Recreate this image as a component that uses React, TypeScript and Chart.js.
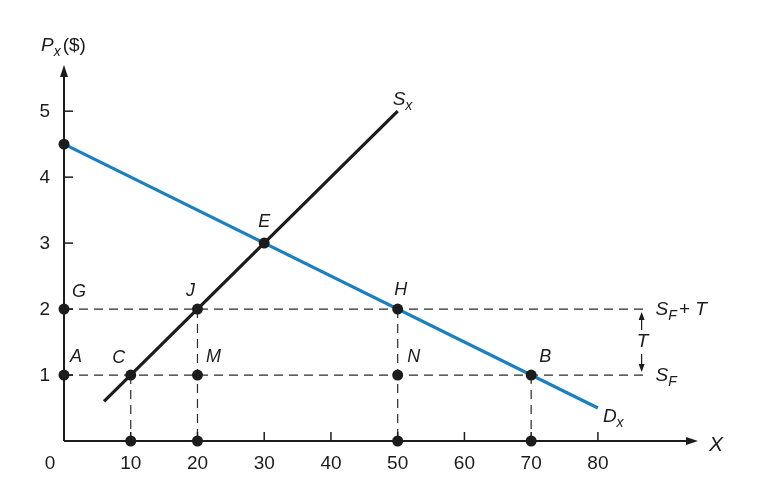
import React, { useEffect, useRef } from "react";
import { Chart, registerables } from "chart.js";

Chart.register(...registerables);

const demandQ = [0, 80];
const demandP = [4.5, 0.5];
const supplyQ = [6, 50];
const supplyP = [0.6, 5];
const pointQ = [0, 0, 0, 10, 20, 20, 30, 50, 50, 70, 10, 20, 50, 70];
const pointP = [4.5, 2, 1, 1, 1, 2, 3, 2, 1, 1, 0, 0, 0, 0];
const pointNames = ["", "G", "A", "C", "M", "J", "E", "H", "N", "B", "", "", "", ""];
const priceLevels = [2, 1];
const priceLevelNames = ["SF+T", "SF"];
const dashEndQ = 87;
const dropQ = [10, 20, 50, 70];
const dropTopP = [1, 2, 2, 1];
const xTicks = [0, 10, 20, 30, 40, 50, 60, 70, 80];
const yTicks = [1, 2, 3, 4, 5];

const BLUE = "#1b7fc1";
const INK = "#1c1c1c";
const FONT = "'Liberation Sans', Arial, sans-serif";
const NUMFONT = "'Liberation Sans Narrow', 'Liberation Sans', Arial, sans-serif";

// label offsets (pixels) relative to their point
const labelOffsets: Record<string, [number, number]> = {
  G: [15, -17],
  A: [12, -18],
  C: [-12, -17],
  M: [16, -18],
  J: [-7, -18],
  E: [0, -21],
  H: [3, -19],
  N: [16, -18],
  B: [14, -18],
};

function drawSub(ctx: CanvasRenderingContext2D, main: string, sub: string, rest: string, x: number, y: number, size: number) {
  ctx.textAlign = "left";
  ctx.textBaseline = "alphabetic";
  ctx.font = `italic ${size}px ${FONT}`;
  ctx.fillText(main, x, y);
  let w = ctx.measureText(main).width;
  ctx.font = `italic ${Math.round(size * 0.75)}px ${FONT}`;
  ctx.fillText(sub, x + w, y + 5);
  w += ctx.measureText(sub).width;
  if (rest) {
    ctx.font = `${rest.startsWith("(") ? "" : "italic "}${size}px ${FONT}`;
    ctx.fillText(rest, x + w + 2, y);
  }
}

const econPlugin = {
  id: "econ",
  beforeDatasetsDraw(chart: any) {
    const { ctx, scales } = chart;
    const xs = scales.x, ys = scales.y;
    const x0 = xs.getPixelForValue(0), y0 = ys.getPixelForValue(0);
    ctx.save();
    // dashed lines
    ctx.strokeStyle = "#2a2a2a";
    ctx.lineWidth = 1.2;
    ctx.setLineDash([9, 6]);
    priceLevels.forEach((p) => {
      ctx.beginPath();
      ctx.moveTo(x0, ys.getPixelForValue(p));
      ctx.lineTo(xs.getPixelForValue(dashEndQ), ys.getPixelForValue(p));
      ctx.stroke();
    });
    dropQ.forEach((q, i) => {
      ctx.beginPath();
      ctx.moveTo(xs.getPixelForValue(q), ys.getPixelForValue(dropTopP[i]));
      ctx.lineTo(xs.getPixelForValue(q), y0);
      ctx.stroke();
    });
    ctx.setLineDash([]);
    // axes
    ctx.strokeStyle = INK;
    ctx.fillStyle = INK;
    ctx.lineWidth = 2;
    const yTop = ys.getPixelForValue(ys.max);
    const xRight = xs.getPixelForValue(xs.max);
    ctx.beginPath();
    ctx.moveTo(x0, y0);
    ctx.lineTo(x0, yTop + 8);
    ctx.moveTo(x0, y0);
    ctx.lineTo(xRight - 8, y0);
    ctx.stroke();
    ctx.beginPath();
    ctx.moveTo(x0, yTop);
    ctx.lineTo(x0 - 4, yTop + 12);
    ctx.lineTo(x0 + 4, yTop + 12);
    ctx.closePath();
    ctx.fill();
    ctx.beginPath();
    ctx.moveTo(xRight, y0);
    ctx.lineTo(xRight - 12, y0 - 4);
    ctx.lineTo(xRight - 12, y0 + 4);
    ctx.closePath();
    ctx.fill();
    // ticks
    ctx.lineWidth = 1.5;
    xTicks.forEach((t) => {
      if (t === 0) return;
      const px = xs.getPixelForValue(t);
      ctx.beginPath();
      ctx.moveTo(px, y0);
      ctx.lineTo(px, y0 - 9);
      ctx.stroke();
    });
    yTicks.forEach((t) => {
      const py = ys.getPixelForValue(t);
      ctx.beginPath();
      ctx.moveTo(x0, py);
      ctx.lineTo(x0 + 9, py);
      ctx.stroke();
    });
    // tick labels
    ctx.font = `19px ${NUMFONT}`;
    ctx.textBaseline = "middle";
    ctx.textAlign = "center";
    xTicks.forEach((t) => {
      const px = t === 0 ? x0 - 14 : xs.getPixelForValue(t);
      ctx.fillText(String(t), px, y0 + 23);
    });
    ctx.textAlign = "right";
    yTicks.forEach((t) => {
      ctx.fillText(String(t), x0 - 14, ys.getPixelForValue(t) + 1);
    });
    ctx.restore();
  },
  afterDatasetsDraw(chart: any) {
    const { ctx, scales } = chart;
    const xs = scales.x, ys = scales.y;
    const x0 = xs.getPixelForValue(0), y0 = ys.getPixelForValue(0);
    ctx.save();
    ctx.fillStyle = INK;
    ctx.strokeStyle = INK;
    // point labels
    ctx.font = `italic 18px ${FONT}`;
    ctx.textAlign = "center";
    ctx.textBaseline = "middle";
    pointNames.forEach((n, i) => {
      if (!n) return;
      const off = labelOffsets[n] || [0, -18];
      ctx.fillText(n, xs.getPixelForValue(pointQ[i]) + off[0], ys.getPixelForValue(pointP[i]) + off[1]);
    });
    // axis titles
    drawSub(ctx, "P", "x", "($)", x0 - 23, ys.getPixelForValue(ys.max) - 14, 19);
    ctx.font = `italic 21px ${FONT}`;
    ctx.textAlign = "left";
    ctx.textBaseline = "middle";
    ctx.fillText("X", xs.getPixelForValue(xs.max) + 11, y0 + 4);
    // curve labels
    drawSub(ctx, "S", "x", "", xs.getPixelForValue(supplyQ[1]) - 5, ys.getPixelForValue(supplyP[1]) - 6, 19);
    drawSub(ctx, "D", "x", "", xs.getPixelForValue(demandQ[1]) + 5, ys.getPixelForValue(demandP[1]) + 14, 19);
    // S_F + T and S_F
    const lx = xs.getPixelForValue(dashEndQ) + 11;
    priceLevels.forEach((p, i) => {
      const py = ys.getPixelForValue(p) + 6;
      if (priceLevelNames[i] === "SF+T") drawSub(ctx, "S", "F", "+ T", lx, py, 19);
      else drawSub(ctx, "S", "F", "", lx, py, 19);
    });
    // T arrow
    const ax = xs.getPixelForValue(dashEndQ) - 3;
    const pTop = ys.getPixelForValue(priceLevels[0]);
    const pBot = ys.getPixelForValue(priceLevels[1]);
    const mid = (pTop + pBot) / 2;
    ctx.lineWidth = 1.2;
    ctx.beginPath();
    ctx.moveTo(ax, pTop + 5);
    ctx.lineTo(ax, mid - 12);
    ctx.moveTo(ax, mid + 12);
    ctx.lineTo(ax, pBot - 5);
    ctx.stroke();
    ctx.beginPath();
    ctx.moveTo(ax, pTop + 3);
    ctx.lineTo(ax - 3, pTop + 11);
    ctx.lineTo(ax + 3, pTop + 11);
    ctx.closePath();
    ctx.fill();
    ctx.beginPath();
    ctx.moveTo(ax, pBot - 3);
    ctx.lineTo(ax - 3, pBot - 11);
    ctx.lineTo(ax + 3, pBot - 11);
    ctx.closePath();
    ctx.fill();
    ctx.font = `italic 19px ${FONT}`;
    ctx.textAlign = "center";
    ctx.textBaseline = "middle";
    ctx.fillText("T", ax + 1, mid);
    ctx.restore();
  },
};

export default function App() {
  const ref = useRef<HTMLCanvasElement | null>(null);
  useEffect(() => {
    document.body.style.margin = "0";
    const canvas = ref.current!;
    const chart = new Chart(canvas, {
      type: "scatter",
      data: {
        datasets: [
          {
            data: pointQ.map((q, i) => ({ x: q, y: pointP[i] })),
            showLine: false,
            backgroundColor: INK,
            borderColor: INK,
            pointRadius: 5.5,
            borderWidth: 0,
            clip: false,
          } as any,
          {
            data: supplyQ.map((q, i) => ({ x: q, y: supplyP[i] })),
            showLine: true,
            borderColor: INK,
            borderWidth: 3.2,
            pointRadius: 0,
            clip: false,
          } as any,
          {
            data: demandQ.map((q, i) => ({ x: q, y: demandP[i] })),
            showLine: true,
            borderColor: BLUE,
            borderWidth: 3.2,
            pointRadius: 0,
            clip: false,
          } as any,
        ],
      },
      options: {
        animation: false,
        responsive: false,
        maintainAspectRatio: false,
        layout: { padding: { left: 64, right: 67, top: 65, bottom: 47 } },
        plugins: { legend: { display: false }, tooltip: { enabled: false } },
        scales: {
          x: { type: "linear", min: 0, max: 95, display: false },
          y: { type: "linear", min: 0, max: 5.7, display: false },
        },
      },
      plugins: [econPlugin],
    });
    return () => chart.destroy();
  }, []);
  return (
    <div style={{ width: 765, height: 488, background: "#fff" }}>
      <canvas ref={ref} width={765} height={488} style={{ display: "block" }} />
    </div>
  );
}
